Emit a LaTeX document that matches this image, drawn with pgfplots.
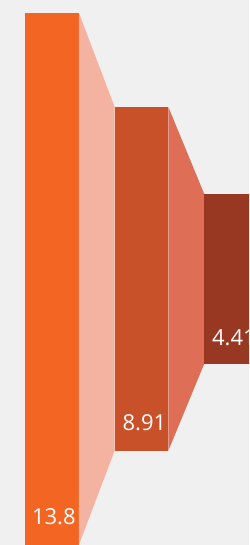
\documentclass[border=0pt]{standalone}
\usepackage{pgfplots}
\pgfplotsset{compat=1.18}
\usepackage{fontspec}
\setmainfont{Open Sans}
\definecolor{bg}{HTML}{F0F0F0}
\definecolor{cA}{HTML}{F26522}
\definecolor{tA}{HTML}{F4B3A0}
\definecolor{cB}{HTML}{C9512A}
\definecolor{tB}{HTML}{DE6E55}
\definecolor{cC}{HTML}{993822}
\begin{document}
\begin{tikzpicture}
\begin{axis}[
  width=249pt, height=545pt, scale only axis,
  xmin=-0.581, xmax=2.201, ymin=-6.9, ymax=7.23,
  axis lines=none, xtick=\empty, ytick=\empty,
  axis background/.style={fill=bg},
  clip=true,
]
% bars (values 13.8, 8.91, 4.41, centred on 0)
\addplot[fill=cA, draw=none] coordinates {(-0.3,-6.9) (0.3,-6.9) (0.3,6.9) (-0.3,6.9)} -- cycle;
\addplot[fill=tA, draw=none] coordinates {(0.3,-6.9) (0.3,6.9) (0.7,4.455) (0.7,-4.455)} -- cycle;
\addplot[fill=cB, draw=none] coordinates {(0.7,-4.455) (1.3,-4.455) (1.3,4.455) (0.7,4.455)} -- cycle;
\addplot[fill=tB, draw=none] coordinates {(1.3,-4.455) (1.3,4.455) (1.7,2.205) (1.7,-2.205)} -- cycle;
\addplot[fill=cC, draw=none] coordinates {(1.7,-2.205) (2.3,-2.205) (2.3,2.205) (1.7,2.205)} -- cycle;
% labels
\node[anchor=base east, inner sep=0pt, text=white, font=\fontsize{22}{22}\selectfont, xshift=-3pt, yshift=20pt] at (axis cs:0.3,-6.9) {13.8};
\node[anchor=base east, inner sep=0pt, text=white, font=\fontsize{22}{22}\selectfont, xshift=-2pt, yshift=20pt] at (axis cs:1.3,-4.455) {8.91};
\node[anchor=base east, inner sep=0pt, text=white, font=\fontsize{22}{22}\selectfont, xshift=-2pt, yshift=18pt] at (axis cs:2.3,-2.205) {4.41};
\end{axis}
\end{tikzpicture}
\end{document}
